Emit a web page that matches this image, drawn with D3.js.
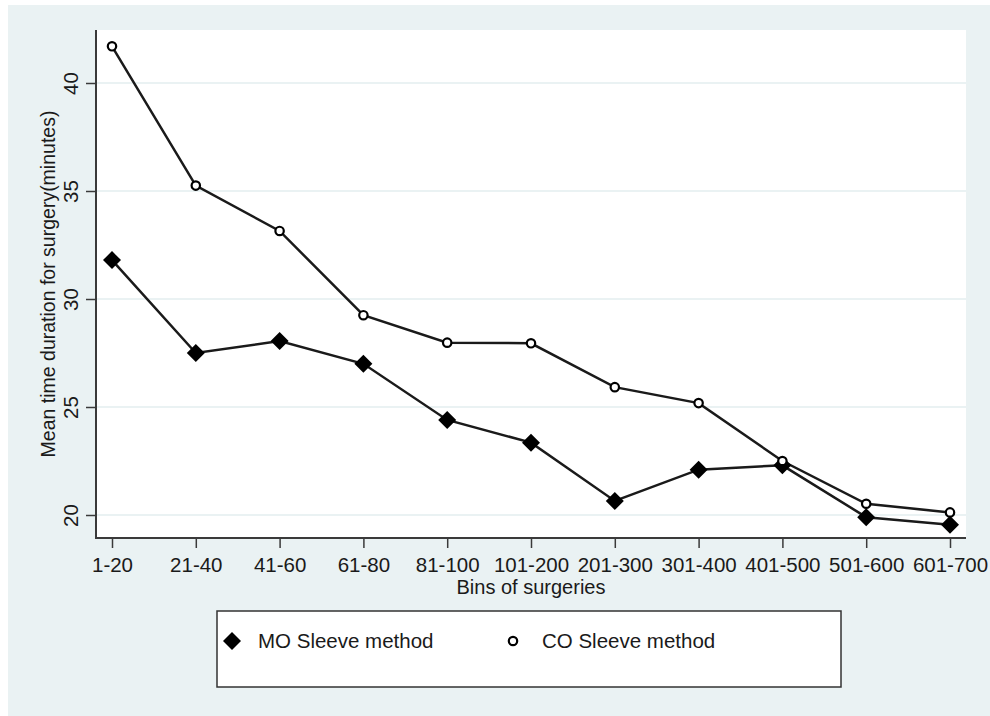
<!DOCTYPE html>
<html>
<head>
<meta charset="utf-8">
<script src="https://cdn.jsdelivr.net/npm/d3@7"></script>
<style>
	body { margin: 0; background: #ffffff; }
	text { font-family: "Liberation Sans", Arial, sans-serif; fill: #1a1a1a; }
</style>
</head>
<body>
<svg id="chart" width="990" height="716"></svg>
<script>
"use strict"

//
// data
//
var bins = ["1-20", "21-40", "41-60", "61-80", "81-100", "101-200", "201-300", "301-400", "401-500", "501-600", "601-700"];
var moSleeve = [31.8, 27.5, 28.05, 27.0, 24.4, 23.35, 20.65, 22.1, 22.3, 19.9, 19.55];
var coSleeve = [41.7, 35.25, 33.15, 29.25, 27.98, 27.95, 25.92, 25.18, 22.5, 20.52, 20.12];
var yTicks = [20, 25, 30, 35, 40];
var seriesNames = ["MO Sleeve method", "CO Sleeve method"];

var BG = "#eaf2f3";
var INK = "#1a1a1a";
var FONT = 20.5;

var svg = d3.select("#chart");

// outer graph region
svg.append("rect")
	.attr("x", 8).attr("y", 5)
	.attr("width", 982).attr("height", 711)
	.attr("fill", BG);

var plot = {left: 96, top: 30, right: 966, bottom: 538};

svg.append("rect")
	.attr("x", plot.left).attr("y", plot.top)
	.attr("width", plot.right - plot.left).attr("height", plot.bottom - plot.top)
	.attr("fill", "#ffffff");

var x = d3.scalePoint()
	.domain(bins)
	.range([112, 950]);

var y = d3.scaleLinear()
	.domain([20, 40])
	.range([515, 83]);

// grid
svg.append("g").selectAll("line")
	.data(yTicks)
	.enter().append("line")
	.attr("x1", plot.left).attr("x2", plot.right)
	.attr("y1", function(d) { return y(d); })
	.attr("y2", function(d) { return y(d); })
	.attr("stroke", BG)
	.attr("stroke-width", 2);

// y axis
var yAxis = svg.append("g")
	.attr("transform", "translate(" + plot.left + ",0)")
	.call(d3.axisLeft(y).tickValues(yTicks).tickSize(10).tickPadding(8).tickFormat(d3.format("d")));
yAxis.select(".domain").remove();
yAxis.append("line")
	.attr("x1", 0).attr("x2", 0)
	.attr("y1", plot.top).attr("y2", plot.bottom + 1)
	.attr("stroke", "#3a3a3a").attr("stroke-width", 2);
yAxis.selectAll(".tick line").attr("stroke", "#3a3a3a").attr("stroke-width", 1.5);
yAxis.selectAll(".tick text")
	.attr("font-size", FONT)
	.attr("fill", INK)
	.attr("x", 0).attr("y", 0)
	.attr("dy", 0)
	.attr("text-anchor", "middle")
	.attr("transform", "translate(-18,0) rotate(-90)");

// x axis
var xAxis = svg.append("g")
	.attr("transform", "translate(0," + plot.bottom + ")")
	.call(d3.axisBottom(x).tickSize(10).tickPadding(6));
xAxis.select(".domain").remove();
xAxis.append("line")
	.attr("x1", plot.left - 1).attr("x2", plot.right)
	.attr("y1", 0).attr("y2", 0)
	.attr("stroke", "#3a3a3a").attr("stroke-width", 2);
xAxis.selectAll(".tick line").attr("stroke", "#3a3a3a").attr("stroke-width", 1.5);
xAxis.selectAll(".tick text")
	.attr("font-size", FONT)
	.attr("fill", INK)
	.attr("dy", 0)
	.attr("y", 34);

// axis titles
svg.append("text")
	.attr("x", (plot.left + plot.right) / 2)
	.attr("y", 594)
	.attr("text-anchor", "middle")
	.attr("font-size", 20)
	.text("Bins of surgeries");

svg.append("text")
	.attr("transform", "translate(55," + ((plot.top + plot.bottom) / 2) + ") rotate(-90)")
	.attr("text-anchor", "middle")
	.attr("font-size", 19.5)
	.text("Mean time duration for surgery(minutes)");

// lines
var line = d3.line()
	.x(function(d, i) { return x(bins[i]); })
	.y(function(d) { return y(d); });

svg.append("path")
	.datum(moSleeve)
	.attr("d", line)
	.attr("fill", "none")
	.attr("stroke", INK)
	.attr("stroke-width", 2.5);

svg.append("path")
	.datum(coSleeve)
	.attr("d", line)
	.attr("fill", "none")
	.attr("stroke", INK)
	.attr("stroke-width", 2.5);

var diamond = "M0,-9L9,0L0,9L-9,0Z";

svg.append("g").selectAll("path")
	.data(moSleeve)
	.enter().append("path")
	.attr("d", diamond)
	.attr("transform", function(d, i) { return "translate(" + x(bins[i]) + "," + y(d) + ")"; })
	.attr("fill", "#000000");

svg.append("g").selectAll("circle")
	.data(coSleeve)
	.enter().append("circle")
	.attr("cx", function(d, i) { return x(bins[i]); })
	.attr("cy", function(d) { return y(d); })
	.attr("r", 4.2)
	.attr("fill", "#ffffff")
	.attr("stroke", "#000000")
	.attr("stroke-width", 2.2);

// legend
var lg = svg.append("g");
lg.append("rect")
	.attr("x", 217).attr("y", 611)
	.attr("width", 624).attr("height", 76)
	.attr("fill", "#ffffff")
	.attr("stroke", "#333333")
	.attr("stroke-width", 1.5);

lg.append("path")
	.attr("d", diamond)
	.attr("transform", "translate(232,641)")
	.attr("fill", "#000000");
lg.append("text")
	.attr("x", 258).attr("y", 648)
	.attr("font-size", FONT)
	.text(seriesNames[0]);

lg.append("circle")
	.attr("cx", 513).attr("cy", 641)
	.attr("r", 4.2)
	.attr("fill", "#ffffff")
	.attr("stroke", "#000000")
	.attr("stroke-width", 2.2);
lg.append("text")
	.attr("x", 542).attr("y", 648)
	.attr("font-size", FONT)
	.text(seriesNames[1]);
</script>
</body>
</html>
